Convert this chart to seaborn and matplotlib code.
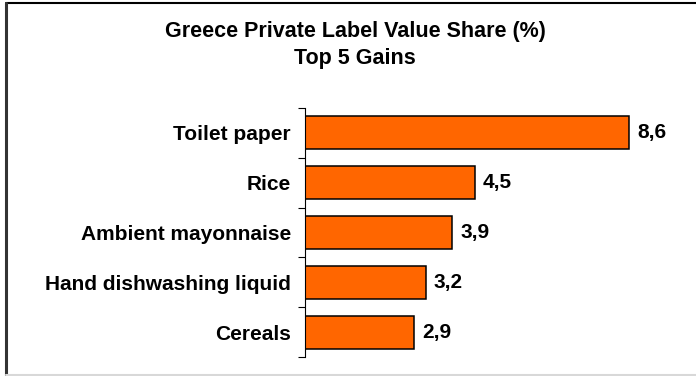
import matplotlib
matplotlib.use("Agg")
import matplotlib.pyplot as plt
from matplotlib.lines import Line2D
from matplotlib.ticker import FixedLocator
import seaborn as sns
import pandas as pd

categories = ["Toilet paper", "Rice", "Ambient mayonnaise",
              "Hand dishwashing liquid", "Cereals"]
values = [8.6, 4.5, 3.9, 3.2, 2.9]
title_lines = ["Greece Private Label Value Share (%)", "Top 5 Gains"]

sns.set_theme(style="white")
plt.rcParams["font.family"] = ["Liberation Sans", "DejaVu Sans"]
plt.rcParams["text.color"] = "black"

df = pd.DataFrame({"category": categories, "value": values})

fig = plt.figure(figsize=(6.96, 3.76), dpi=100)
ax = fig.add_axes([0.438, 0.0505, 0.542, 0.6625])

sns.barplot(data=df, x="value", y="category", orient="h", color="#FF6600",
            edgecolor="black", linewidth=1.1, width=0.66, saturation=1,
            ax=ax)

ax.set_xlim(0, 10)
ax.set_ylim(len(categories) - 0.5, -0.5)
ax.set_xlabel("")
ax.set_ylabel("")
ax.set_xticks([])

for s in ["top", "right", "bottom"]:
    ax.spines[s].set_visible(False)
ax.spines["left"].set_color("black")
ax.spines["left"].set_linewidth(0.8)

ax.tick_params(axis="y", which="major", length=0, pad=10,
               labelsize=15, labelcolor="black")
for lbl in ax.get_yticklabels():
    lbl.set_fontweight("bold")
ax.yaxis.set_minor_locator(FixedLocator([i - 0.5 for i in range(len(categories) + 1)]))
ax.tick_params(axis="y", which="minor", left=True, length=5, width=0.8,
               color="black", direction="out")

for i, v in enumerate(values):
    ax.text(v + 0.22, i, f"{v:.1f}".replace(".", ","), va="center",
            ha="left", fontsize=15, fontweight="bold", color="black")

fig.text(0.51, 0.915, title_lines[0], ha="center", va="center",
         fontsize=15.5, fontweight="bold", color="black")
fig.text(0.51, 0.845, title_lines[1], ha="center", va="center",
         fontsize=15.5, fontweight="bold", color="black")

# frame around the figure
fig.add_artist(Line2D([0.0085, 1.0], [0.991, 0.991], transform=fig.transFigure,
                      color="black", linewidth=1.5))
fig.add_artist(Line2D([0.0085, 0.0085], [0.003, 0.991], transform=fig.transFigure,
                      color="#333333", linewidth=2.2))
fig.add_artist(Line2D([0.0085, 1.0], [0.003, 0.003], transform=fig.transFigure,
                      color="#d8d8d8", linewidth=1.5))

fig.savefig("out.png", dpi=100, facecolor="white")
